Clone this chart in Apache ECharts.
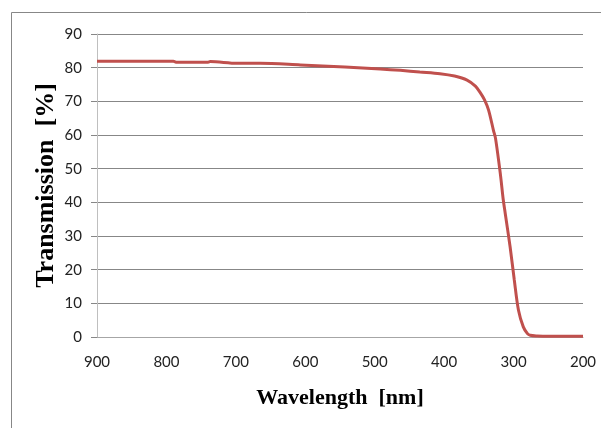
<!DOCTYPE html>
<html>
<head>
<meta charset="utf-8">
<script src="https://cdn.jsdelivr.net/npm/echarts@6/dist/echarts.min.js"></script>
<style>
html,body{margin:0;padding:0;background:#fff;}
#chart{width:601px;height:428px;}
</style>
</head>
<body>
<div id="chart"></div>
<script>
var wavelengths = [900, 850, 790, 785, 740, 737, 698, 665, 607, 543, 492, 463, 435, 406, 385, 367, 355, 348, 342, 336, 329, 326, 320, 318, 315, 312, 305, 299, 293, 286, 280, 276, 266, 250, 200];
var transmission = [81.9, 81.9, 81.9, 81.6, 81.6, 81.8, 81.3, 81.3, 80.8, 80.2, 79.6, 79.2, 78.7, 78.2, 77.5, 76.3, 74.5, 72.6, 70.5, 67.4, 61.4, 59, 50, 46.6, 41, 36.7, 26.8, 17, 8, 3, 1, 0.5, 0.3, 0.2, 0.2];
var xTitle = 'Wavelength  [nm]';
var yTitle = 'Transmission  [%]';

var seriesData = wavelengths.map(function (w, i) { return [w, transmission[i]]; });

var chart = echarts.init(document.getElementById('chart'), null, {renderer: 'canvas'});
chart.setOption({
  animation: false,
  backgroundColor: '#ffffff',
  graphic: [{
    type: 'rect',
    shape: {x: 11.5, y: 12.5, width: 700, height: 500},
    style: {fill: 'none', stroke: '#878787', lineWidth: 1},
    silent: true
  }],
  grid: {left: 97, right: 18, top: 34, bottom: 91, containLabel: false},
  xAxis: {
    type: 'value',
    inverse: true,
    min: 200, max: 900, interval: 100,
    axisLine: {show: true, lineStyle: {color: '#a6a6a6', width: 1}},
    axisTick: {show: false},
    splitLine: {show: false},
    axisLabel: {color: '#222', fontFamily: 'Lato', fontSize: 15, margin: 18},
    name: xTitle,
    nameLocation: 'middle',
    nameGap: 50,
    nameTextStyle: {fontFamily: 'Liberation Serif', fontWeight: 'bold', fontSize: 22, color: '#000'}
  },
  yAxis: {
    type: 'value',
    min: 0, max: 90, interval: 10,
    axisLine: {show: true, lineStyle: {color: '#bfbfbf', width: 1}},
    axisTick: {show: true, length: 6, lineStyle: {color: '#878787'}},
    splitLine: {show: true, lineStyle: {color: '#878787', width: 1}},
    axisLabel: {color: '#222', fontFamily: 'Lato', fontSize: 15, margin: 15},
    name: yTitle,
    nameLocation: 'middle',
    nameGap: 38,
    nameMoveOverlap: false,
    nameTextStyle: {fontFamily: 'Liberation Serif', fontWeight: 'bold', fontSize: 26, color: '#000'}
  },
  series: [{
    type: 'line',
    data: seriesData,
    showSymbol: false,
    smooth: 0.3,
    lineStyle: {color: '#c0504d', width: 3},
    itemStyle: {color: '#c0504d'}
  }]
});
</script>
</body>
</html>
